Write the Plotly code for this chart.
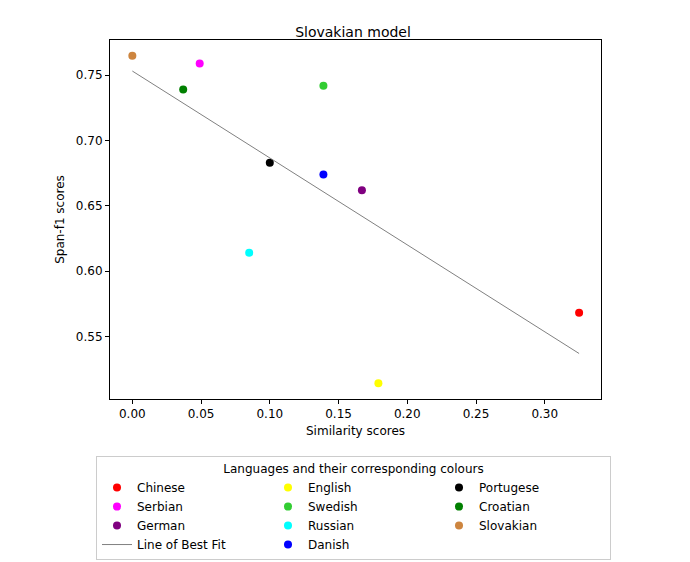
import numpy as np
import plotly.graph_objects as go

languages = ["Chinese", "Croatian", "Danish", "English", "German", "Portugese", "Russian", "Serbian", "Slovakian", "Swedish"]
similarity = [0.325, 0.037, 0.139, 0.179, 0.167, 0.100, 0.085, 0.049, 0.0, 0.139]
span_f1 = [0.568, 0.739, 0.674, 0.514, 0.662, 0.683, 0.614, 0.759, 0.765, 0.742]
colours = ["red", "green", "blue", "yellow", "purple", "black", "cyan", "magenta", "peru", "limegreen"]

# row-major order for plotly's horizontal legend (matplotlib fills column-major)
order = ["Chinese", "English", "Portugese", "Serbian", "Swedish",
         "Croatian", "German", "Russian", "Slovakian", "LINE", "Danish"]

slope, intercept = np.polyfit(similarity, span_f1, 1)
xl = np.array([min(similarity), max(similarity)])

fig = go.Figure()
for name in order:
    if name == "LINE":
        fig.add_trace(go.Scatter(x=xl, y=slope * xl + intercept, mode="lines",
                                 line=dict(color="grey", width=1), name="Line of Best Fit"))
    else:
        i = languages.index(name)
        fig.add_trace(go.Scatter(x=[similarity[i]], y=[span_f1[i]], mode="markers",
                                 marker=dict(color=colours[i], size=8), name=name))

ax = dict(showgrid=False, zeroline=False, showline=True, linecolor="black", mirror=True,
          ticks="outside", ticklen=4, tickcolor="black")
fig.update_layout(
    width=690, height=562, plot_bgcolor="white", paper_bgcolor="white",
    font=dict(family="DejaVu Sans", size=12, color="black"),
    title=dict(text="Slovakian model", x=0.5, xanchor="center", y=0.965, font=dict(size=14)),
    margin=dict(l=10, r=9, t=32, b=162),
    xaxis=dict(ax, domain=[0.137, 0.869], range=[-0.0163, 0.341], dtick=0.05, tickformat=".2f",
               title=dict(text="Similarity scores", standoff=6, font=dict(size=12))),
    yaxis=dict(ax, range=[0.502, 0.777], dtick=0.05, tickformat=".2f",
               title=dict(text="Span-f1 scores", standoff=8, font=dict(size=12))),
    legend=dict(orientation="h", x=0.5, xanchor="center", y=-0.16, yanchor="top",
                entrywidth=126, bordercolor="#cccccc", borderwidth=1,
                title=dict(text="Languages and their corresponding colours", side="top center",
                           font=dict(size=12)),
                font=dict(size=12)),
)
fig.write_html("out.html")
